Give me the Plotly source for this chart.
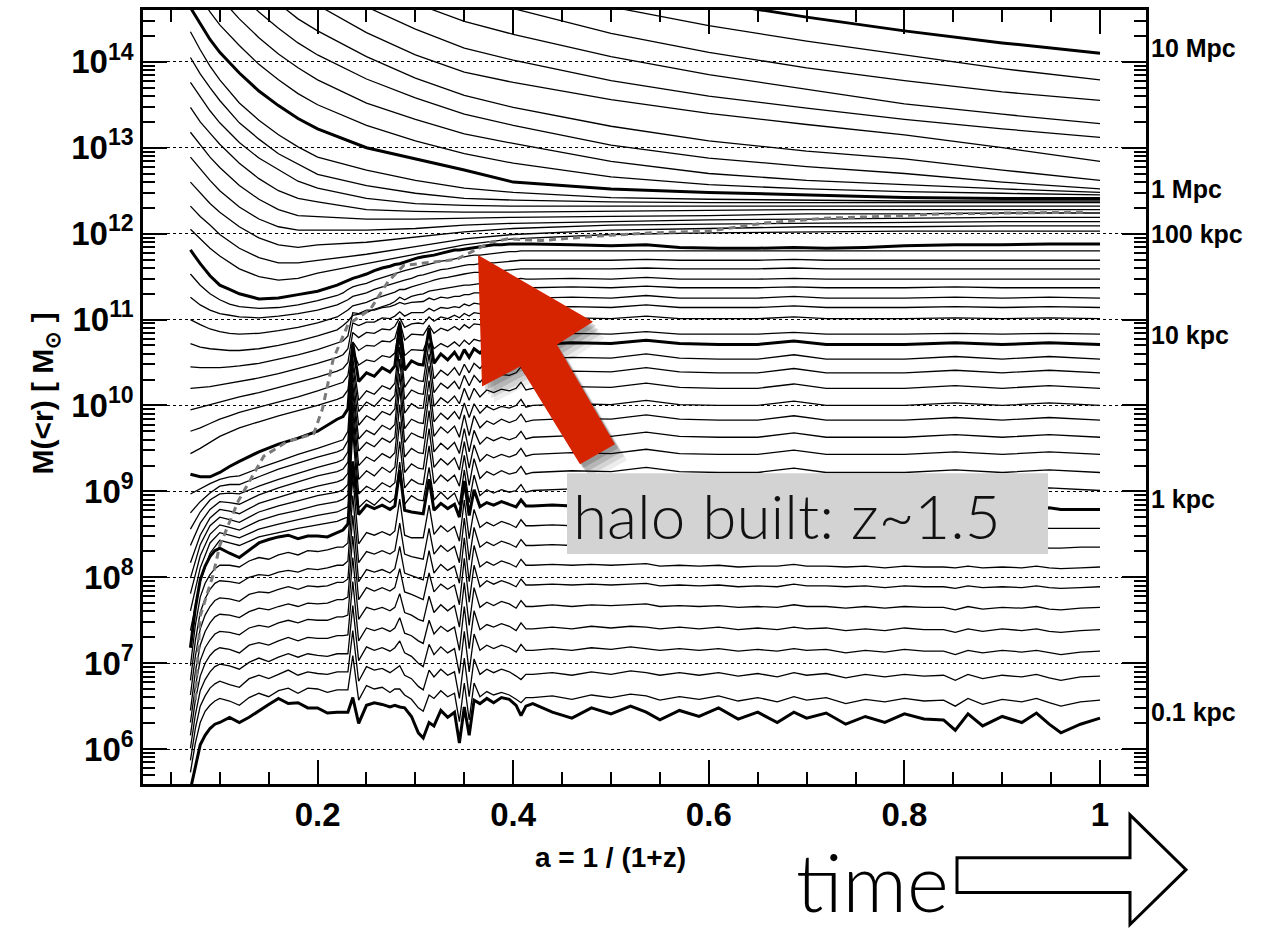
import plotly.graph_objects as go

# ---------------- data (log10 of enclosed mass) ----------------
G_OUT = [0.07, 0.08, 0.09, 0.10, 0.12, 0.14, 0.16, 0.18, 0.20, 0.25, 0.30, 0.35, 0.40,
         0.50, 0.60, 0.70, 0.80, 0.90, 1.00]
G_SPIKE = [0.226, 0.231, 0.236, 0.242, 0.250, 0.258, 0.266, 0.274, 0.279, 0.284, 0.289, 0.296,
           0.303, 0.308, 0.314, 0.319, 0.326, 0.333, 0.340, 0.345, 0.350, 0.355, 0.360, 0.366,
           0.373, 0.380, 0.388, 0.396, 0.403, 0.408, 0.413, 0.420]
G_MID = ([0.07, 0.08, 0.09, 0.10, 0.11, 0.12, 0.14, 0.16, 0.18, 0.20, 0.22] + G_SPIKE +
         [0.46, 0.50, 0.536, 0.57, 0.61, 0.65, 0.687, 0.72, 0.76, 0.80, 0.852, 0.90, 0.948, 1.00])
G_IN = ([0.07, 0.075, 0.08, 0.085, 0.09, 0.095, 0.10,
         0.11, 0.12, 0.13, 0.14, 0.15, 0.16, 0.17, 0.18, 0.19, 0.20, 0.21, 0.22] + G_SPIKE +
        [0.44, 0.46, 0.48, 0.50, 0.52, 0.536, 0.55, 0.57, 0.59, 0.61, 0.63, 0.65, 0.67, 0.687,
         0.70, 0.72, 0.74, 0.76, 0.78, 0.80, 0.82, 0.84, 0.852, 0.865, 0.88, 0.90, 0.92, 0.935,
         0.948, 0.96, 0.98, 1.00])

# radius r = 0.1 kpc * 10**(i/10); R00 = 0.1 kpc ... R50 = 10 Mpc
R00 = [5.53, 5.81, 6.05, 6.16, 6.24, 6.29, 6.31,
       6.37, 6.31, 6.37, 6.45, 6.52, 6.59, 6.53, 6.54, 6.48, 6.48, 6.42, 6.43,
       6.43, 6.43, 6.60, 6.30, 6.51, 6.54, 6.52, 6.49, 6.51, 6.49, 6.48, 6.38, 6.19, 6.13, 6.31, 6.27,
       6.45, 6.37, 6.43, 6.07, 6.49, 6.16, 6.57, 6.53, 6.59, 6.54, 6.60, 6.58, 6.51, 6.39, 6.50, 6.53,
       6.43, 6.36, 6.48, 6.41, 6.50, 6.43, 6.34, 6.45, 6.38, 6.48, 6.35, 6.43, 6.31, 6.43, 6.36, 6.42,
       6.29, 6.38, 6.31, 6.41, 6.35, 6.34, 6.22, 6.41, 6.27, 6.38, 6.31, 6.42, 6.29, 6.19, 6.29, 6.36]
R01 = [5.73, 6.07, 6.31, 6.44, 6.51, 6.56, 6.59,
       6.56, 6.51, 6.60, 6.65, 6.61, 6.68, 6.71, 6.65, 6.71, 6.70, 6.66, 6.69,
       6.69, 6.69, 7.09, 6.57, 6.74, 6.70, 6.72, 6.66, 6.70, 6.70, 6.63, 6.58, 6.48, 6.44, 6.63, 6.59,
       6.68, 6.61, 6.65, 6.32, 6.77, 6.34, 6.77, 6.61, 6.67, 6.63, 6.66, 6.63, 6.58, 6.54, 6.60, 6.60,
       6.62, 6.58, 6.63, 6.60, 6.64, 6.62, 6.57, 6.61, 6.58, 6.62, 6.56, 6.60, 6.55, 6.61, 6.57, 6.60,
       6.53, 6.58, 6.55, 6.59, 6.56, 6.57, 6.50, 6.59, 6.52, 6.58, 6.55, 6.59, 6.54, 6.50, 6.55, 6.57]
R02 = [5.87, 6.24, 6.50, 6.62, 6.71, 6.76, 6.79,
       6.75, 6.72, 6.82, 6.86, 6.82, 6.87, 6.92, 6.86, 6.90, 6.88, 6.87, 6.90,
       6.90, 6.90, 7.38, 6.79, 6.96, 6.92, 6.94, 6.89, 6.93, 6.97, 6.86, 6.82, 6.73, 6.69, 6.92, 6.84,
       6.93, 6.86, 6.90, 6.59, 7.06, 6.61, 7.05, 6.87, 6.93, 6.89, 6.93, 6.90, 6.85, 6.81, 6.87, 6.87,
       6.89, 6.86, 6.90, 6.87, 6.91, 6.89, 6.86, 6.89, 6.86, 6.89, 6.85, 6.88, 6.84, 6.89, 6.86, 6.88,
       6.83, 6.87, 6.84, 6.87, 6.85, 6.86, 6.80, 6.87, 6.82, 6.86, 6.84, 6.87, 6.83, 6.80, 6.84, 6.85]
R03 = [6.01, 6.40, 6.68, 6.81, 6.90, 6.96, 6.99,
       6.97, 6.93, 7.01, 7.06, 7.02, 7.07, 7.11, 7.07, 7.11, 7.09, 7.08, 7.11,
       7.11, 7.11, 7.67, 7.03, 7.19, 7.15, 7.18, 7.14, 7.18, 7.26, 7.12, 7.08, 7.00, 6.96, 7.22, 7.10,
       7.19, 7.12, 7.17, 6.88, 7.37, 6.90, 7.34, 7.15, 7.21, 7.17, 7.21, 7.18, 7.13, 7.22, 7.15, 7.15,
       7.17, 7.15, 7.18, 7.16, 7.19, 7.17, 7.15, 7.17, 7.15, 7.17, 7.14, 7.16, 7.14, 7.17, 7.15, 7.16,
       7.12, 7.15, 7.13, 7.16, 7.14, 7.14, 7.10, 7.15, 7.12, 7.15, 7.13, 7.15, 7.12, 7.10, 7.13, 7.14]
R04 = [6.16, 6.57, 6.85, 7.00, 7.09, 7.15, 7.18,
       7.16, 7.12, 7.21, 7.24, 7.21, 7.26, 7.30, 7.26, 7.30, 7.29, 7.29, 7.32,
       7.32, 7.33, 7.95, 7.26, 7.41, 7.38, 7.41, 7.37, 7.41, 7.53, 7.35, 7.32, 7.26, 7.23, 7.50, 7.34,
       7.43, 7.37, 7.42, 7.15, 7.66, 7.17, 7.61, 7.39, 7.45, 7.42, 7.46, 7.43, 7.38, 7.47, 7.40, 7.40,
       7.42, 7.40, 7.43, 7.41, 7.43, 7.42, 7.40, 7.42, 7.40, 7.42, 7.39, 7.41, 7.39, 7.42, 7.40, 7.41,
       7.38, 7.40, 7.38, 7.41, 7.39, 7.39, 7.36, 7.40, 7.37, 7.40, 7.38, 7.40, 7.37, 7.36, 7.38, 7.39]
R05 = [6.31, 6.73, 7.03, 7.18, 7.27, 7.34, 7.37,
       7.36, 7.33, 7.41, 7.44, 7.42, 7.47, 7.50, 7.47, 7.51, 7.50, 7.50, 7.54,
       7.54, 7.56, 8.23, 7.51, 7.65, 7.62, 7.65, 7.61, 7.65, 7.81, 7.59, 7.56, 7.51, 7.49, 7.78, 7.59,
       7.68, 7.61, 7.67, 7.42, 7.94, 7.44, 7.88, 7.65, 7.71, 7.67, 7.72, 7.69, 7.64, 7.73, 7.66, 7.66,
       7.68, 7.66, 7.68, 7.67, 7.68, 7.69, 7.66, 7.67, 7.66, 7.67, 7.65, 7.66, 7.65, 7.68, 7.66, 7.66,
       7.64, 7.66, 7.64, 7.66, 7.65, 7.65, 7.62, 7.66, 7.63, 7.65, 7.64, 7.66, 7.63, 7.62, 7.64, 7.65]
R06 = [6.45, 6.90, 7.21, 7.37, 7.47, 7.54, 7.57,
       7.56, 7.53, 7.60, 7.64, 7.62, 7.66, 7.69, 7.66, 7.70, 7.69, 7.70, 7.74,
       7.74, 7.77, 8.48, 7.74, 7.88, 7.84, 7.88, 7.84, 7.88, 8.10, 7.83, 7.80, 7.76, 7.74, 8.05, 7.83,
       7.92, 7.86, 7.91, 7.68, 8.22, 7.71, 8.14, 7.89, 7.96, 7.92, 7.96, 7.93, 7.89, 7.98, 7.91, 7.91,
       7.92, 7.91, 7.92, 7.91, 7.92, 7.93, 7.90, 7.91, 7.90, 7.91, 7.89, 7.90, 7.89, 7.92, 7.90, 7.90,
       7.89, 7.90, 7.88, 7.90, 7.89, 7.89, 7.87, 7.90, 7.88, 7.89, 7.88, 7.90, 7.88, 7.87, 7.88, 7.89]
R07 = [6.63, 7.08, 7.40, 7.56, 7.66, 7.73, 7.76,
       7.75, 7.72, 7.80, 7.83, 7.82, 7.86, 7.89, 7.86, 7.90, 7.89, 7.90, 7.94,
       7.94, 7.98, 8.72, 7.95, 8.09, 8.06, 8.09, 8.05, 8.10, 8.36, 8.05, 8.02, 7.99, 7.97, 8.31, 8.05,
       8.15, 8.08, 8.13, 7.93, 8.46, 7.95, 8.37, 8.12, 8.18, 8.14, 8.19, 8.16, 8.12, 8.21, 8.14, 8.14,
       8.15, 8.14, 8.15, 8.14, 8.15, 8.16, 8.13, 8.14, 8.13, 8.14, 8.12, 8.13, 8.13, 8.15, 8.13, 8.13,
       8.12, 8.13, 8.11, 8.13, 8.12, 8.12, 8.11, 8.13, 8.11, 8.12, 8.11, 8.13, 8.11, 8.10, 8.11, 8.12]
R08 = [6.80, 7.26, 7.59, 7.75, 7.86, 7.93, 7.96,
       7.95, 7.93, 8.00, 8.03, 8.02, 8.06, 8.08, 8.06, 8.10, 8.09, 8.11, 8.14,
       8.14, 8.19, 8.95, 8.17, 8.30, 8.27, 8.31, 8.27, 8.31, 8.63, 8.27, 8.24, 8.22, 8.21, 8.57, 8.27,
       8.37, 8.30, 8.36, 8.17, 8.69, 8.20, 8.58, 8.35, 8.41, 8.37, 8.42, 8.39, 8.35, 8.44, 8.37, 8.37,
       8.38, 8.37, 8.38, 8.37, 8.38, 8.39, 8.37, 8.37, 8.36, 8.37, 8.36, 8.36, 8.36, 8.38, 8.36, 8.36,
       8.35, 8.36, 8.35, 8.36, 8.35, 8.35, 8.34, 8.36, 8.34, 8.35, 8.34, 8.36, 8.34, 8.34, 8.35, 8.35]
R09 = [6.97, 7.44, 7.77, 7.93, 8.03, 8.10, 8.14,
       8.14, 8.12, 8.19, 8.23, 8.21, 8.26, 8.29, 8.26, 8.31, 8.30, 8.32, 8.35,
       8.35, 8.40, 9.18, 8.39, 8.52, 8.49, 8.53, 8.49, 8.54, 8.91, 8.49, 8.46, 8.46, 8.46, 8.84, 8.50,
       8.60, 8.53, 8.59, 8.42, 8.90, 8.45, 8.79, 8.58, 8.64, 8.60, 8.65, 8.62, 8.58, 8.67, 8.60, 8.60,
       8.61, 8.60, 8.61, 8.60, 8.61, 8.62, 8.60, 8.60, 8.59, 8.60, 8.59, 8.59, 8.59, 8.61, 8.59, 8.59,
       8.58, 8.59, 8.58, 8.59, 8.58, 8.58, 8.57, 8.59, 8.57, 8.58, 8.57, 8.58, 8.57, 8.57, 8.57, 8.57]
R10 = [7.18, 7.64, 7.97, 8.13, 8.24, 8.31, 8.34,
       8.28, 8.23, 8.31, 8.40, 8.44, 8.47, 8.49, 8.45, 8.48, 8.48, 8.47, 8.52,
       8.55, 8.62, 9.35, 8.73, 8.84, 8.80, 8.84, 8.79, 8.83, 9.25, 8.78, 8.76, 8.75, 8.74, 9.14, 8.78,
       8.86, 8.80, 8.85, 8.70, 9.12, 8.72, 9.02, 8.82, 8.87, 8.84, 8.88, 8.85, 8.82, 8.90, 8.83, 8.83,
       8.84, 8.83, 8.83, 8.82, 8.82, 8.85, 8.82, 8.81, 8.81, 8.81, 8.80, 8.80, 8.80, 8.83, 8.80, 8.80,
       8.79, 8.79, 8.79, 8.79, 8.79, 8.79, 8.82, 8.79, 8.79, 8.79, 8.78, 8.79, 8.81, 8.79, 8.79, 8.79]

R11 = [7.38, 7.95, 8.28, 8.43, 8.40, 8.37, 8.47, 8.52, 8.57, 8.61, 8.65,
       8.68, 8.70, 9.70, 8.81, 8.90, 8.84, 8.93, 8.87, 8.92, 9.34, 8.85, 8.95, 8.90, 8.89, 9.28, 8.90,
       8.99, 8.91, 8.98, 8.84, 9.25, 8.87, 9.19, 8.95, 9.02, 8.98, 9.02, 8.99, 9.01, 9.08, 8.99, 9.01,
       9.03, 9.02, 9.07, 9.02, 9.01, 9.01, 9.06, 9.01, 9.01, 9.01, 9.04, 9.01, 9.04, 9.01]
R12 = [7.61, 8.11, 8.40, 8.52, 8.49, 8.46, 8.56, 8.62, 8.67, 8.72, 8.76,
       8.79, 8.82, 9.81, 8.97, 9.06, 9.01, 9.10, 9.05, 9.10, 9.58, 9.04, 9.14, 9.09, 9.08, 9.53, 9.09,
       9.19, 9.12, 9.19, 9.06, 9.42, 9.07, 9.38, 9.15, 9.23, 9.19, 9.24, 9.20, 9.22, 9.29, 9.20, 9.22,
       9.24, 9.23, 9.28, 9.23, 9.22, 9.22, 9.27, 9.22, 9.22, 9.22, 9.25, 9.22, 9.25, 9.22]
R13 = [7.81, 8.25, 8.50, 8.61, 8.58, 8.55, 8.66, 8.73, 8.78, 8.84, 8.88,
       8.91, 8.96, 9.93, 9.14, 9.24, 9.18, 9.28, 9.22, 9.28, 9.81, 9.22, 9.32, 9.27, 9.26, 9.73, 9.28,
       9.38, 9.31, 9.39, 9.25, 9.58, 9.27, 9.54, 9.35, 9.43, 9.39, 9.43, 9.40, 9.43, 9.50, 9.41, 9.43,
       9.45, 9.44, 9.49, 9.44, 9.43, 9.43, 9.48, 9.43, 9.43, 9.43, 9.46, 9.43, 9.46, 9.43]
R14 = [7.99, 8.38, 8.60, 8.70, 8.67, 8.64, 8.76, 8.83, 8.89, 8.95, 8.99,
       9.02, 9.08, 10.04, 9.30, 9.40, 9.35, 9.44, 9.39, 9.45, 10.01, 9.40, 9.50, 9.45, 9.44, 9.94, 9.46,
       9.56, 9.49, 9.57, 9.44, 9.73, 9.46, 9.71, 9.55, 9.63, 9.59, 9.63, 9.60, 9.63, 9.70, 9.61, 9.63,
       9.65, 9.64, 9.69, 9.64, 9.63, 9.63, 9.68, 9.63, 9.63, 9.63, 9.66, 9.63, 9.66, 9.63]
R15 = [8.17, 8.49, 8.69, 8.79, 8.77, 8.74, 8.86, 8.93, 9.00, 9.06, 9.11,
       9.14, 9.21, 10.16, 9.47, 9.57, 9.52, 9.62, 9.57, 9.63, 10.21, 9.57, 9.68, 9.64, 9.62, 10.13, 9.64,
       9.75, 9.68, 9.76, 9.63, 9.89, 9.65, 9.88, 9.74, 9.82, 9.78, 9.84, 9.80, 9.83, 9.90, 9.81, 9.83,
       9.85, 9.84, 9.89, 9.84, 9.83, 9.83, 9.88, 9.83, 9.83, 9.83, 9.86, 9.83, 9.86, 9.83]
R16 = [8.37, 8.63, 8.79, 8.88, 8.87, 8.85, 8.96, 9.04, 9.11, 9.18, 9.23,
       9.26, 9.34, 10.25, 9.61, 9.71, 9.66, 9.77, 9.72, 9.78, 10.37, 9.73, 9.84, 9.80, 9.79, 10.29, 9.81,
       9.91, 9.84, 9.93, 9.84, 10.03, 9.86, 10.02, 9.91, 9.99, 9.95, 9.99, 9.97, 10.00, 10.07, 9.98, 10.00,
       10.02, 10.01, 10.06, 10.01, 10.00, 10.00, 10.05, 10.00, 10.00, 10.00, 10.03, 10.00, 10.03, 10.00]
R17 = [8.56, 8.76, 8.90, 8.97, 8.98, 8.97, 9.06, 9.14, 9.21, 9.28, 9.34,
       9.37, 9.46, 10.36, 9.77, 9.88, 9.83, 9.93, 9.89, 9.96, 10.54, 9.91, 10.02, 9.97, 9.97, 10.46, 9.99,
       10.09, 10.03, 10.11, 10.02, 10.20, 10.06, 10.20, 10.10, 10.18, 10.15, 10.19, 10.17, 10.20, 10.27, 10.18, 10.20,
       10.22, 10.21, 10.26, 10.21, 10.20, 10.20, 10.25, 10.20, 10.20, 10.20, 10.23, 10.20, 10.23, 10.20]
R18 = [8.75, 8.88, 8.98, 9.06, 9.08, 9.08, 9.17, 9.26, 9.33, 9.40, 9.46,
       9.49, 9.59, 10.47, 9.93, 10.04, 9.99, 10.09, 10.05, 10.12, 10.68, 10.07, 10.18, 10.14, 10.13, 10.60, 10.15,
       10.26, 10.20, 10.28, 10.19, 10.35, 10.23, 10.35, 10.27, 10.36, 10.32, 10.36, 10.35, 10.38, 10.45, 10.36, 10.38,
       10.40, 10.39, 10.44, 10.39, 10.38, 10.38, 10.43, 10.38, 10.38, 10.38, 10.41, 10.38, 10.41, 10.38]
R19 = [8.97, 9.03, 9.09, 9.14, 9.17, 9.18, 9.27, 9.35, 9.43, 9.50, 9.57,
       9.60, 9.70, 10.55, 10.06, 10.17, 10.13, 10.23, 10.19, 10.26, 10.79, 10.21, 10.33, 10.29, 10.28, 10.73, 10.31,
       10.41, 10.35, 10.44, 10.35, 10.48, 10.38, 10.49, 10.43, 10.52, 10.48, 10.52, 10.51, 10.54, 10.61, 10.52, 10.54,
       10.56, 10.55, 10.60, 10.55, 10.54, 10.54, 10.59, 10.54, 10.54, 10.54, 10.57, 10.54, 10.57, 10.54]
R20 = [9.20, 9.17, 9.17, 9.22, 9.29, 9.35, 9.46, 9.55, 9.62, 9.70, 9.84,
       9.87, 9.96, 10.72, 10.28, 10.38, 10.34, 10.44, 10.39, 10.46, 10.96, 10.41, 10.52, 10.48, 10.47, 10.90, 10.49,
       10.60, 10.53, 10.62, 10.53, 10.65, 10.56, 10.66, 10.61, 10.69, 10.64, 10.70, 10.68, 10.71, 10.76, 10.70, 10.71,
       10.73, 10.72, 10.76, 10.72, 10.71, 10.71, 10.75, 10.71, 10.71, 10.71, 10.73, 10.71, 10.73, 10.71]
R21 = [9.44, 9.50, 9.57, 9.64, 9.69, 9.74, 9.81, 9.88, 9.94, 10.00, 10.07,
       10.10, 10.18, 10.64, 10.47, 10.53, 10.51, 10.58, 10.56, 10.61, 10.95, 10.58, 10.65, 10.64, 10.64, 10.82, 10.66,
       10.72, 10.68, 10.74, 10.69, 10.76, 10.71, 10.77, 10.75, 10.80, 10.78, 10.81, 10.80, 10.83, 10.87, 10.82, 10.83,
       10.84, 10.83, 10.86, 10.83, 10.83, 10.83, 10.85, 10.83, 10.83, 10.83, 10.84, 10.83, 10.84, 10.83]
R22 = [9.70, 9.74, 9.79, 9.84, 9.88, 9.92, 9.98, 10.04, 10.10, 10.17, 10.24,
       10.27, 10.35, 10.74, 10.64, 10.70, 10.69, 10.75, 10.74, 10.78, 10.98, 10.76, 10.83, 10.82, 10.82, 10.93, 10.84,
       10.90, 10.87, 10.92, 10.88, 10.94, 10.90, 10.95, 10.94, 10.98, 10.96, 10.99, 10.99, 11.01, 11.05, 11.00, 11.01,
       11.02, 11.01, 11.04, 11.01, 11.01, 11.01, 11.03, 11.01, 11.01, 11.01, 11.02, 11.01, 11.02, 11.01]
R23 = [9.95, 9.98, 10.01, 10.04, 10.07, 10.10, 10.15, 10.21, 10.27, 10.33, 10.40,
       10.43, 10.50, 10.85, 10.79, 10.85, 10.84, 10.89, 10.88, 10.92, 11.02, 10.91, 10.95, 10.96, 10.95, 11.03, 10.98,
       11.03, 11.01, 11.05, 11.02, 11.07, 11.04, 11.08, 11.07, 11.11, 11.09, 11.11, 11.12, 11.14, 11.17, 11.13, 11.14,
       11.15, 11.14, 11.17, 11.14, 11.14, 11.14, 11.16, 11.14, 11.14, 11.14, 11.15, 11.14, 11.15, 11.14]
R24 = [10.20, 10.21, 10.22, 10.24, 10.26, 10.28, 10.32, 10.37, 10.43, 10.49, 10.56,
       10.59, 10.66, 10.96, 10.93, 10.97, 10.97, 11.02, 11.01, 11.04, 11.09, 11.04, 11.08, 11.08, 11.08, 11.13, 11.10,
       11.14, 11.13, 11.15, 11.14, 11.18, 11.16, 11.19, 11.18, 11.21, 11.20, 11.23, 11.23, 11.25, 11.27, 11.25, 11.25,
       11.26, 11.25, 11.28, 11.25, 11.25, 11.25, 11.27, 11.25, 11.25, 11.25, 11.26, 11.25, 11.26, 11.25]
R25 = [10.45, 10.44, 10.44, 10.44, 10.45, 10.46, 10.49, 10.54, 10.59, 10.65, 10.72,
       10.75, 10.81, 11.08, 11.07, 11.11, 11.11, 11.14, 11.15, 11.17, 11.20, 11.18, 11.20, 11.21, 11.21, 11.25, 11.23,
       11.26, 11.25, 11.27, 11.27, 11.29, 11.29, 11.31, 11.31, 11.33, 11.33, 11.35, 11.35, 11.37, 11.38, 11.37, 11.37,
       11.38, 11.37, 11.39, 11.37, 11.37, 11.37, 11.38, 11.37, 11.37, 11.37, 11.38, 11.37, 11.37, 11.37]
R26 = [10.72, 10.68, 10.66, 10.65, 10.64, 10.64, 10.66, 10.70, 10.75, 10.81, 10.88,
       10.93, 10.98, 11.05, 11.06, 11.08, 11.12, 11.15, 11.18, 11.21, 11.26, 11.23, 11.27, 11.29, 11.30, 11.33, 11.34,
       11.35, 11.36, 11.38, 11.39, 11.40, 11.40, 11.41, 11.42, 11.43, 11.44, 11.45, 11.46, 11.47, 11.48, 11.47, 11.47,
       11.48, 11.47, 11.49, 11.47, 11.47, 11.47, 11.48, 11.47, 11.47, 11.47, 11.47, 11.47, 11.47, 11.47]
R27 = [11.00, 10.94, 10.89, 10.86, 10.84, 10.83, 10.84, 10.87, 10.91, 10.96, 11.03,
       11.07, 11.11, 11.16, 11.18, 11.20, 11.24, 11.27, 11.30, 11.32, 11.35, 11.35, 11.38, 11.40, 11.42, 11.44, 11.46,
       11.48, 11.49, 11.51, 11.52, 11.53, 11.54, 11.55, 11.55, 11.56, 11.56, 11.57, 11.58, 11.58, 11.59, 11.59, 11.59,
       11.59, 11.59, 11.60, 11.59, 11.59, 11.59, 11.60, 11.59, 11.59, 11.59, 11.59, 11.59, 11.59, 11.59]
R28 = [11.26, 11.17, 11.11, 11.07, 11.05, 11.03, 11.02, 11.04, 11.07, 11.11, 11.17,
       11.20, 11.23, 11.27, 11.29, 11.31, 11.35, 11.38, 11.41, 11.43, 11.45, 11.46, 11.48, 11.51, 11.52, 11.54, 11.56,
       11.58, 11.59, 11.61, 11.62, 11.63, 11.64, 11.64, 11.65, 11.66, 11.66, 11.67, 11.68, 11.68, 11.69, 11.69, 11.69,
       11.69, 11.69, 11.70, 11.69, 11.69, 11.69, 11.70, 11.69, 11.69, 11.69, 11.69, 11.69, 11.69, 11.69]
R29 = [11.53, 11.40, 11.30, 11.23, 11.18, 11.15, 11.13, 11.14, 11.17, 11.22, 11.28,
       11.31, 11.35, 11.38, 11.40, 11.42, 11.46, 11.49, 11.52, 11.54, 11.56, 11.57, 11.59, 11.61, 11.62, 11.64, 11.66,
       11.68, 11.69, 11.71, 11.72, 11.73, 11.74, 11.75, 11.75, 11.76, 11.77, 11.78, 11.79, 11.79, 11.80, 11.80, 11.80,
       11.80, 11.80, 11.80, 11.80, 11.80, 11.80, 11.80, 11.80, 11.80, 11.80, 11.80, 11.80, 11.80, 11.80]
R30 = [11.81, 11.65, 11.51, 11.40, 11.35, 11.30, 11.24, 11.25, 11.29, 11.33, 11.40,
       11.43, 11.45, 11.48, 11.50, 11.53, 11.57, 11.60, 11.62, 11.64, 11.65, 11.67, 11.69, 11.72, 11.73, 11.74, 11.75,
       11.77, 11.79, 11.81, 11.81, 11.82, 11.83, 11.84, 11.85, 11.86, 11.87, 11.87, 11.88, 11.88, 11.88, 11.88, 11.88,
       11.87, 11.86, 11.87, 11.84, 11.83, 11.83, 11.84, 11.83, 11.84, 11.86, 11.87, 11.87, 11.88, 11.88]

R31 = [12.05, 11.94, 11.83, 11.74, 11.59, 11.50, 11.46, 11.48, 11.54, 11.65, 11.76, 11.87, 11.94, 11.99, 12.01, 12.02, 12.03, 12.03, 12.03]
R32 = [12.32, 12.20, 12.10, 11.99, 11.83, 11.72, 11.66, 11.66, 11.69, 11.76, 11.85, 11.94, 11.99, 12.04, 12.06, 12.08, 12.08, 12.09, 12.09]
R33 = [12.60, 12.47, 12.35, 12.25, 12.08, 11.95, 11.87, 11.84, 11.87, 11.90, 11.96, 12.02, 12.06, 12.10, 12.11, 12.12, 12.13, 12.14, 12.14]
R34 = [12.89, 12.75, 12.62, 12.50, 12.31, 12.17, 12.08, 12.04, 12.04, 12.04, 12.06, 12.10, 12.12, 12.14, 12.16, 12.17, 12.18, 12.19, 12.19]
R35 = [13.18, 13.03, 12.89, 12.77, 12.56, 12.40, 12.28, 12.21, 12.20, 12.17, 12.17, 12.18, 12.19, 12.20, 12.21, 12.23, 12.23, 12.24, 12.24]
R36 = [13.47, 13.30, 13.17, 13.04, 12.82, 12.64, 12.50, 12.41, 12.37, 12.28, 12.26, 12.25, 12.25, 12.26, 12.27, 12.28, 12.28, 12.28, 12.28]
R37 = [13.76, 13.59, 13.43, 13.29, 13.06, 12.88, 12.74, 12.61, 12.53, 12.41, 12.35, 12.33, 12.32, 12.32, 12.32, 12.32, 12.32, 12.32, 12.32]
R38 = [14.05, 13.86, 13.70, 13.55, 13.29, 13.10, 12.93, 12.81, 12.69, 12.56, 12.47, 12.41, 12.39, 12.37, 12.36, 12.36, 12.36, 12.36, 12.36]
R39 = [14.35, 14.14, 13.95, 13.79, 13.52, 13.32, 13.15, 13.01, 12.89, 12.74, 12.62, 12.53, 12.48, 12.42, 12.40, 12.39, 12.38, 12.38, 12.38]
R40 = [14.63, 14.44, 14.26, 14.11, 13.87, 13.66, 13.49, 13.34, 13.22, 13.00, 12.87, 12.74, 12.60, 12.52, 12.48, 12.45, 12.42, 12.41, 12.41]
R41 = [14.95, 14.76, 14.58, 14.43, 14.19, 13.97, 13.79, 13.63, 13.50, 13.26, 13.08, 12.93, 12.82, 12.66, 12.57, 12.52, 12.49, 12.47, 12.45]
R42 = [15.30, 15.10, 14.90, 14.75, 14.50, 14.28, 14.09, 13.93, 13.79, 13.52, 13.33, 13.16, 13.05, 12.84, 12.70, 12.62, 12.57, 12.52, 12.48]
R43 = [15.60, 15.40, 15.20, 15.05, 14.80, 14.58, 14.39, 14.22, 14.08, 13.80, 13.58, 13.39, 13.26, 13.03, 12.88, 12.78, 12.70, 12.60, 12.52]
R44 = [15.90, 15.70, 15.50, 15.35, 15.10, 14.88, 14.68, 14.50, 14.36, 14.06, 13.81, 13.61, 13.47, 13.25, 13.08, 12.96, 12.87, 12.74, 12.62]
R45 = [16.20, 16.00, 15.80, 15.65, 15.40, 15.18, 14.98, 14.80, 14.66, 14.34, 14.08, 13.88, 13.76, 13.56, 13.40, 13.27, 13.15, 13.00, 12.84]
R46 = [16.50, 16.30, 16.10, 15.95, 15.70, 15.48, 15.28, 15.10, 14.95, 14.64, 14.38, 14.16, 14.02, 13.78, 13.60, 13.46, 13.33, 13.22, 13.12]
R47 = [16.80, 16.60, 16.40, 16.25, 16.00, 15.78, 15.58, 15.40, 15.25, 14.93, 14.68, 14.47, 14.32, 14.06, 13.85, 13.68, 13.51, 13.39, 13.28]
R48 = [17.10, 16.90, 16.70, 16.55, 16.30, 16.08, 15.88, 15.70, 15.55, 15.22, 14.97, 14.76, 14.62, 14.33, 14.11, 13.93, 13.78, 13.65, 13.55]
R49 = [17.40, 17.20, 17.00, 16.85, 16.60, 16.38, 16.18, 16.00, 15.85, 15.52, 15.26, 15.05, 14.90, 14.64, 14.42, 14.24, 14.08, 13.92, 13.79]
R50 = [17.70, 17.50, 17.30, 17.15, 16.90, 16.68, 16.48, 16.30, 16.15, 15.82, 15.56, 15.35, 15.20, 14.92, 14.70, 14.52, 14.36, 14.22, 14.10]

# grey dashed curve (halo mass)
VIR_A = [0.075, 0.080, 0.093, 0.100, 0.119, 0.145, 0.169, 0.196, 0.205, 0.216, 0.231, 0.254,
         0.272, 0.288, 0.342, 0.377, 0.395, 0.429, 0.483, 0.542, 0.600, 0.654, 0.719, 0.777,
         0.836, 0.924, 0.986]
VIR_LOGM = [6.57, 7.55, 8.02, 8.37, 8.89, 9.41, 9.58, 9.67, 9.96, 10.54, 10.94, 11.12,
            11.44, 11.63, 11.70, 11.90, 11.94, 11.92, 11.97, 12.01, 12.03, 12.12, 12.18, 12.20,
            12.23, 12.24, 12.25]

Y_TICKS = [6, 7, 8, 9, 10, 11, 12, 13, 14]
X_TICKS = [0.2, 0.4, 0.6, 0.8, 1.0]
X_TICK_TEXT = ["0.2", "0.4", "0.6", "0.8", "1"]
RADIUS_LABELS = ["10 Mpc", "1 Mpc", "100 kpc", "10 kpc", "1 kpc", "0.1 kpc"]
RADIUS_LABEL_Y = [45, 187, 232, 333, 498, 712]   # pixel rows of the right-hand labels

# ---------------- figure ----------------
W, H = 1270, 929
ML, MR, MT, MB = 143, 124, 7, 145
PW, PH = W - ML - MR, H - MT - MB
FONT = "Liberation Sans, Arial, Helvetica, sans-serif"
THIN = "Lato, Inter, 'Open Sans', sans-serif"


def fx(x):
    return (x - ML) / PW


def fy(y):
    return (H - MB - y) / PH


def poly(points, dx=0.0, dy=0.0):
    return "M " + " L ".join(f"{fx(x + dx):.5f},{fy(y + dy):.5f}" for x, y in points) + " Z"


series = [R00, R01, R02, R03, R04, R05, R06, R07, R08, R09, R10,
          R11, R12, R13, R14, R15, R16, R17, R18, R19, R20,
          R21, R22, R23, R24, R25, R26, R27, R28, R29, R30,
          R31, R32, R33, R34, R35, R36, R37, R38, R39, R40,
          R41, R42, R43, R44, R45, R46, R47, R48, R49, R50]
grids = [G_IN] * 11 + [G_MID] * 20 + [G_OUT] * 20

fig = go.Figure()
bad = []
for i, (g, v) in enumerate(zip(grids, series)):
    if len(g) != len(v):
        bad.append(f"R{i:02d}:{len(v)}/{len(g)}")
    bold = (i % 10 == 0)
    fig.add_trace(go.Scatter(
        x=g[:len(v)], y=[10 ** t for t in v[:len(g)]], mode="lines",
        line=dict(color="black", width=3.0 if bold else 1.3),
        hoverinfo="skip", showlegend=False))

fig.add_trace(go.Scatter(
    x=VIR_A, y=[10 ** t for t in VIR_LOGM], mode="lines",
    line=dict(color="#7a7a7a", width=3, dash="7px,5px"),
    hoverinfo="skip", showlegend=False))

fig.update_layout(
    width=W, height=H,
    margin=dict(l=ML, r=MR, t=MT, b=MB, pad=0),
    paper_bgcolor="white", plot_bgcolor="white",
    font=dict(family=FONT, color="black"),
    showlegend=False,
)
fig.update_xaxes(
    range=[0.0215, 1.047], tickvals=X_TICKS, ticktext=X_TICK_TEXT,
    ticks="inside", ticklen=24, tickwidth=2, tickcolor="black",
    minor=dict(ticks="inside", ticklen=12, tickwidth=1.5, tickcolor="black", dtick=0.05, tick0=0, showgrid=False),
    showline=True, linewidth=2.5, linecolor="black", mirror="allticks",
    showgrid=False, zeroline=False,
    tickfont=dict(family=FONT, size=33, color="black", weight="bold"),
)
fig.update_yaxes(
    type="log", range=[5.594, 14.603],
    tickvals=[10 ** k for k in Y_TICKS],
    ticktext=[f"10<sup>{k}</sup>" for k in Y_TICKS],
    ticks="inside", ticklen=24, tickwidth=2, tickcolor="black",
    minor=dict(ticks="inside", ticklen=12, tickwidth=1.5, tickcolor="black", dtick="D1", showgrid=False),
    showline=True, linewidth=2.5, linecolor="black", mirror="allticks",
    showgrid=True, gridcolor="black", gridwidth=1.3, griddash="dot",
    zeroline=False,
    tickfont=dict(family=FONT, size=33, color="black", weight="bold"),
)

shapes = []
# red arrow with soft shadow
ARROW = [(478, 253), (593, 320), (557, 343), (615, 443), (580, 463), (520, 365), (482, 385)]
for dx, dy, op in [(12, 16, 0.07), (9, 12, 0.10), (6, 8, 0.14), (3, 4, 0.16)]:
    shapes.append(dict(type="path", xref="paper", yref="paper", path=poly(ARROW, dx, dy),
                       fillcolor="black", opacity=op, line=dict(width=0), layer="above"))
shapes.append(dict(type="path", xref="paper", yref="paper", path=poly(ARROW),
                   fillcolor="#d62300", line=dict(width=0), layer="above"))
# grey label box
shapes.append(dict(type="rect", xref="paper", yref="paper",
                   x0=fx(567), x1=fx(1048), y0=fy(553), y1=fy(472),
                   fillcolor="#d3d3d3", line=dict(width=0), layer="above"))
# outlined time arrow
TIME_ARROW = [(957, 858), (1130, 858), (1130, 815), (1186, 870), (1130, 925), (1130, 893), (957, 893)]
shapes.append(dict(type="path", xref="paper", yref="paper", path=poly(TIME_ARROW),
                   fillcolor="white", line=dict(color="black", width=3), layer="above"))
fig.update_layout(shapes=shapes)

ann = []
for txt, yy in zip(RADIUS_LABELS, RADIUS_LABEL_Y):
    ann.append(dict(xref="paper", yref="paper", x=fx(1149), y=fy(yy), text=txt, showarrow=False,
                    xanchor="left", yanchor="middle",
                    font=dict(family=FONT, size=25, color="black", weight="bold")))
ann.append(dict(xref="paper", yref="paper", x=fx(45), y=fy(392), textangle=-90,
                text="M(&lt;r) [ M<sub>⊙</sub> ]", showarrow=False,
                xanchor="center", yanchor="middle",
                font=dict(family=FONT, size=30, color="black", weight="bold")))
ann.append(dict(xref="paper", yref="paper", x=fx(610), y=fy(858),
                text="a = 1 / (1+z)", showarrow=False, xanchor="center", yanchor="middle",
                font=dict(family=FONT, size=28, color="black", weight="bold")))
ann.append(dict(xref="paper", yref="paper", x=fx(571), y=fy(514),
                text="halo built: z~1.5", showarrow=False, xanchor="left", yanchor="middle",
                font=dict(family=THIN, size=62, color="#111111", weight=300)))
ann.append(dict(xref="paper", yref="paper", x=fx(951), y=fy(881),
                text="time", showarrow=False, xanchor="right", yanchor="middle",
                font=dict(family=THIN, size=80, color="black", weight=300)))
if bad:
    ann.append(dict(xref="paper", yref="paper", x=0.5, y=0.5, text="LEN " + " ".join(bad),
                    showarrow=False, font=dict(size=20, color="red")))
fig.update_layout(annotations=ann)

fig.write_html("out.html")
